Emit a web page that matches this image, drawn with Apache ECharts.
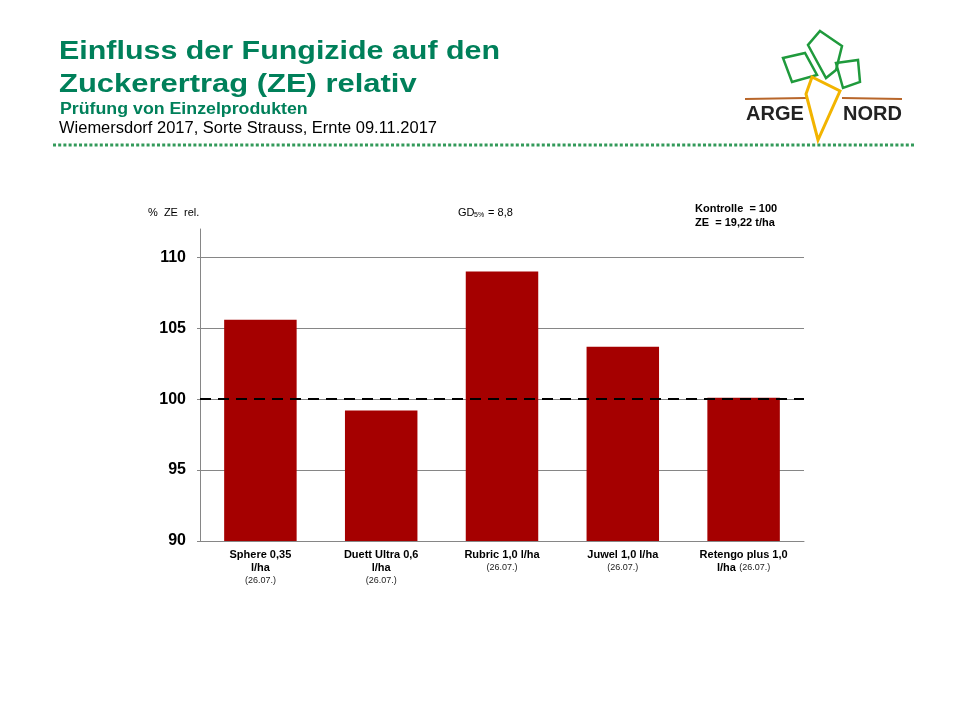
<!DOCTYPE html>
<html lang="de">
<head>
    <meta charset="UTF-8">
    <title>Einfluss der Fungizide auf den Zuckerertrag (ZE) relativ</title>
    <script src="https://cdn.jsdelivr.net/npm/echarts@6.0.0/dist/echarts.min.js"></script>
    <style>
        html, body {
            margin: 0;
            padding: 0;
            background: #fff;
        }

        #chart {
            width: 960px;
            height: 720px;
        }
    </style>
</head>
<body>
    <div id="chart"></div>
    <script type="text/javascript">
        // Produkte (Beschriftung der x-Achse, wie im Original umbrochen)
        var tickLabels = [
            'Sphere 0,35\nl/ha\n(26.07.)',
            'Duett Ultra 0,6\nl/ha\n(26.07.)',
            'Rubric 1,0 l/ha\n(26.07.)',
            'Juwel 1,0 l/ha\n(26.07.)',
            'Retengo plus 1,0\nl/ha (26.07.)'
        ];
        // Zuckerertrag relativ zur Kontrolle (= 100)
        var zeRelativ = [105.6, 99.2, 109.0, 103.7, 100.1];
        var kontrolle = 100;
        var yTicks = [90, 95, 100, 105, 110];

        var font = '"Liberation Sans", Arial, sans-serif';
        var green = '#00805a';

        // fett gedruckter Produktname, Datum klein und normal
        function richLabel(value) {
            return value.split('\n').map(function(line) {
                var m = line.match(/^(.*?)\s*(\([^)]*\))?$/);
                var out = '';
                if (m[1]) out += '{b|' + m[1] + '}';
                if (m[2]) out += (m[1] ? ' ' : '') + '{s|' + m[2] + '}';
                return out;
            }).join('\n');
        }

        var myChart = echarts.init(document.getElementById('chart'));

        var option = {
            backgroundColor: '#fff',
            animation: false,
            textStyle: {
                fontFamily: font
            },
            grid: {
                left: 200,
                right: 156,
                top: 229,
                bottom: 179
            },
            xAxis: {
                type: 'category',
                data: tickLabels,
                axisLine: {
                    lineStyle: { color: '#868686', width: 1 }
                },
                axisTick: { show: false },
                axisLabel: {
                    interval: 0,
                    margin: 7,
                    formatter: richLabel,
                    rich: {
                        b: {
                            fontFamily: font,
                            fontSize: 11,
                            fontWeight: 'bold',
                            color: '#000',
                            lineHeight: 13
                        },
                        s: {
                            fontFamily: font,
                            fontSize: 9,
                            color: '#222',
                            lineHeight: 13
                        }
                    }
                }
            },
            yAxis: {
                type: 'value',
                min: yTicks[0],
                max: 112,
                interval: 5,
                axisLine: {
                    show: true,
                    lineStyle: { color: '#868686', width: 1 }
                },
                axisTick: {
                    show: true,
                    length: 3,
                    lineStyle: { color: '#868686' }
                },
                axisLabel: {
                    margin: 14,
                    showMaxLabel: false,
                    fontSize: 16,
                    fontWeight: 'bold',
                    color: '#000',
                    fontFamily: font
                },
                splitLine: {
                    show: true,
                    showMaxLine: false,
                    lineStyle: { color: '#868686', width: 1 }
                }
            },
            series: [{
                name: 'ZE rel.',
                type: 'bar',
                barWidth: '60%',
                data: zeRelativ,
                itemStyle: { color: '#a50000' },
                markLine: {
                    silent: true,
                    symbol: 'none',
                    label: { show: false },
                    lineStyle: {
                        color: '#000',
                        width: 2,
                        type: [11, 7]
                    },
                    data: [{ yAxis: kontrolle }]
                }
            }],
            graphic: [
                // Kopfzeile
                {
                    type: 'text', x: 59, y: 39, scaleX: 1.17,
                    style: { text: 'Einfluss der Fungizide auf den', font: 'bold 26px ' + font, fill: green, textVerticalAlign: 'top' }
                },
                {
                    type: 'text', x: 59, y: 72, scaleX: 1.19,
                    style: { text: 'Zuckerertrag (ZE) relativ', font: 'bold 26px ' + font, fill: green, textVerticalAlign: 'top' }
                },
                {
                    type: 'text', x: 60, y: 102, scaleX: 1.11,
                    style: { text: 'Prüfung von Einzelprodukten', font: 'bold 16px ' + font, fill: green, textVerticalAlign: 'top' }
                },
                {
                    type: 'text', x: 59, y: 121, scaleX: 1.03,
                    style: { text: 'Wiemersdorf 2017, Sorte Strauss, Ernte 09.11.2017', font: '16px ' + font, fill: '#000', textVerticalAlign: 'top' }
                },
                {
                    type: 'line',
                    shape: { x1: 53, y1: 145, x2: 915, y2: 145 },
                    style: { stroke: '#339a5a', lineWidth: 3, lineDash: [3, 2.2] }
                },
                // Logo ARGE NORD
                {
                    type: 'polyline',
                    shape: { points: [[745, 99], [806, 98]] },
                    style: { stroke: '#b8662a', lineWidth: 2, fill: null }
                },
                {
                    type: 'polyline',
                    shape: { points: [[842, 98], [902, 99]] },
                    style: { stroke: '#b8662a', lineWidth: 2, fill: null }
                },
                {
                    type: 'polygon',
                    shape: { points: [[783, 58], [805, 53], [817, 75], [792, 82]] },
                    style: { stroke: '#1f9a3c', lineWidth: 2.5, fill: null }
                },
                {
                    type: 'polygon',
                    shape: { points: [[820, 31], [842, 46], [836, 70], [826, 78], [808, 45]] },
                    style: { stroke: '#1f9a3c', lineWidth: 2.5, fill: null }
                },
                {
                    type: 'polygon',
                    shape: { points: [[836, 63], [858, 60], [860, 82], [843, 88]] },
                    style: { stroke: '#1f9a3c', lineWidth: 2.5, fill: null }
                },
                {
                    type: 'polygon',
                    shape: { points: [[812, 77], [840, 91], [818, 140], [806, 94]] },
                    style: { stroke: '#f2b400', lineWidth: 3, fill: null }
                },
                {
                    type: 'text', left: 746, top: 104,
                    style: { text: 'ARGE', font: 'bold 20px ' + font, fill: '#222' }
                },
                {
                    type: 'text', left: 843, top: 104,
                    style: { text: 'NORD', font: 'bold 20px ' + font, fill: '#222' }
                },
                // Beschriftungen über dem Diagramm
                {
                    type: 'text', left: 148, top: 207,
                    style: { text: '%  ZE  rel.', font: '11px ' + font, fill: '#000' }
                },
                {
                    type: 'text', left: 458, top: 207,
                    style: { text: 'GD', font: '11px ' + font, fill: '#000' }
                },
                {
                    type: 'text', left: 474, top: 212,
                    style: { text: '5%', font: '7px ' + font, fill: '#000' }
                },
                {
                    type: 'text', left: 485, top: 207,
                    style: { text: ' = 8,8', font: '11px ' + font, fill: '#000' }
                },
                {
                    type: 'text', left: 695, top: 203,
                    style: { text: 'Kontrolle  = 100', font: 'bold 11px ' + font, fill: '#000' }
                },
                {
                    type: 'text', left: 695, top: 217,
                    style: { text: 'ZE  = 19,22 t/ha', font: 'bold 11px ' + font, fill: '#000' }
                }
            ]
        };

        myChart.setOption(option);
    </script>
</body>
</html>
